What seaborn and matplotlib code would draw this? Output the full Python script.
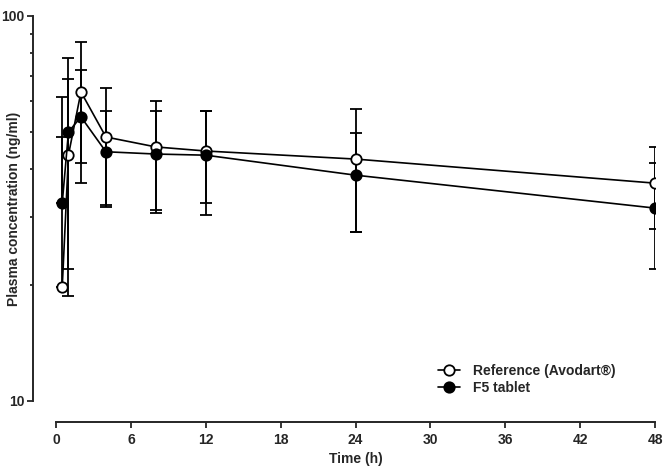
import matplotlib
matplotlib.use("Agg")
import matplotlib.pyplot as plt
import numpy as np
import pandas as pd
import seaborn as sns
from matplotlib.lines import Line2D
from matplotlib.ticker import LogLocator, NullFormatter, FixedLocator, FixedFormatter

time_h = [0.5, 1, 2, 4, 8, 12, 24, 48]
ref_mean = [19.8, 43.6, 63.5, 48.5, 45.7, 44.6, 42.5, 36.8]
ref_sd = [41.8, 24.9, 22.0, 16.5, 14.4, 12.0, 15.0, 8.9]
f5_mean = [32.7, 50.0, 54.7, 44.4, 43.8, 43.5, 38.6, 31.7]
f5_sd = [15.8, 28.0, 17.8, 12.2, 13.0, 13.0, 11.2, 9.7]
# lower bars are not drawn at the first sampling point
lower_shown = [0, 1, 1, 1, 1, 1, 1, 1]

x_ticks = [0, 6, 12, 18, 24, 30, 36, 42, 48]
y_ticks = [10, 100]
labels = ["Reference (Avodart\u00ae)", "F5 tablet"]

sns.set_style("ticks")
plt.rcParams["font.family"] = ["Liberation Sans", "DejaVu Sans"]
plt.rcParams["font.weight"] = "bold"

df = pd.DataFrame(
    {
        "time": time_h * 2,
        "conc": ref_mean + f5_mean,
        "group": [labels[0]] * len(time_h) + [labels[1]] * len(time_h),
    }
)

fig = plt.figure(figsize=(6.66, 4.72), dpi=100)
ax = fig.add_axes([56 / 666, 1 - 401 / 472, 599 / 666, 385 / 472])

series = [
    (ref_mean, ref_sd, "white"),
    (f5_mean, f5_sd, "black"),
]
for (mean, sd, face), label in zip(series, labels):
    mean = np.array(mean)
    sd = np.array(sd)
    low = sd * np.array(lower_shown)
    ax.errorbar(
        time_h,
        mean,
        yerr=[low, sd],
        fmt="none",
        ecolor="black",
        elinewidth=1.3,
        capsize=4.5,
        capthick=1.3,
        zorder=2,
    )
    sns.lineplot(
        data=df[df["group"] == label],
        x="time",
        y="conc",
        ax=ax,
        color="black",
        lw=1.2,
        marker="o",
        markersize=7.5,
        markerfacecolor=face,
        markeredgecolor="black",
        markeredgewidth=1.3,
        legend=False,
        zorder=3,
    )

ax.set_yscale("log")
ax.set_xlim(0, 48)
ax.set_ylim(10, 100)
ax.xaxis.set_major_locator(FixedLocator(x_ticks))
ax.yaxis.set_major_locator(FixedLocator(y_ticks))
ax.yaxis.set_major_formatter(FixedFormatter([str(v) for v in y_ticks]))
ax.yaxis.set_minor_locator(LogLocator(base=10, subs=np.arange(2, 10)))
ax.yaxis.set_minor_formatter(NullFormatter())

ax.tick_params(axis="x", which="major", length=4, width=1.3, pad=4, labelsize=10)
ax.tick_params(axis="y", which="major", length=4, width=1.3, pad=2, labelsize=10)
ax.tick_params(axis="y", which="minor", length=2.5, width=1.3)
for lab in ax.get_xticklabels() + ax.get_yticklabels():
    lab.set_fontweight("bold")

sns.despine(ax=ax, offset={"left": 16.5, "bottom": 15})
for side in ["left", "bottom"]:
    ax.spines[side].set_linewidth(1.4)

ax.set_xlabel("Time (h)", fontsize=10, fontweight="bold")
ax.set_ylabel("Plasma concentration (ng/ml)", fontsize=10, fontweight="bold")
ax.xaxis.set_label_coords(0.5, -(452 - 401) / 385, transform=ax.transAxes)
ax.yaxis.set_label_coords(-(56 - 21) / 599, 0.5, transform=ax.transAxes)

handles = [
    Line2D([], [], color="black", lw=1.2, marker="o", markersize=7.5,
           markerfacecolor="white", markeredgecolor="black", markeredgewidth=1.3),
    Line2D([], [], color="black", lw=1.2, marker="o", markersize=7.5,
           markerfacecolor="black", markeredgecolor="black", markeredgewidth=1.3),
]
leg = fig.legend(
    handles,
    labels,
    loc="upper left",
    bbox_to_anchor=(438 / 666, 1 - 364 / 472),
    frameon=False,
    fontsize=10,
    handlelength=1.6,
    handletextpad=0.9,
    labelspacing=0.2,
    borderpad=0,
    borderaxespad=0,
)
for t in leg.get_texts():
    t.set_fontweight("bold")

fig.savefig("out.png", dpi=100)
